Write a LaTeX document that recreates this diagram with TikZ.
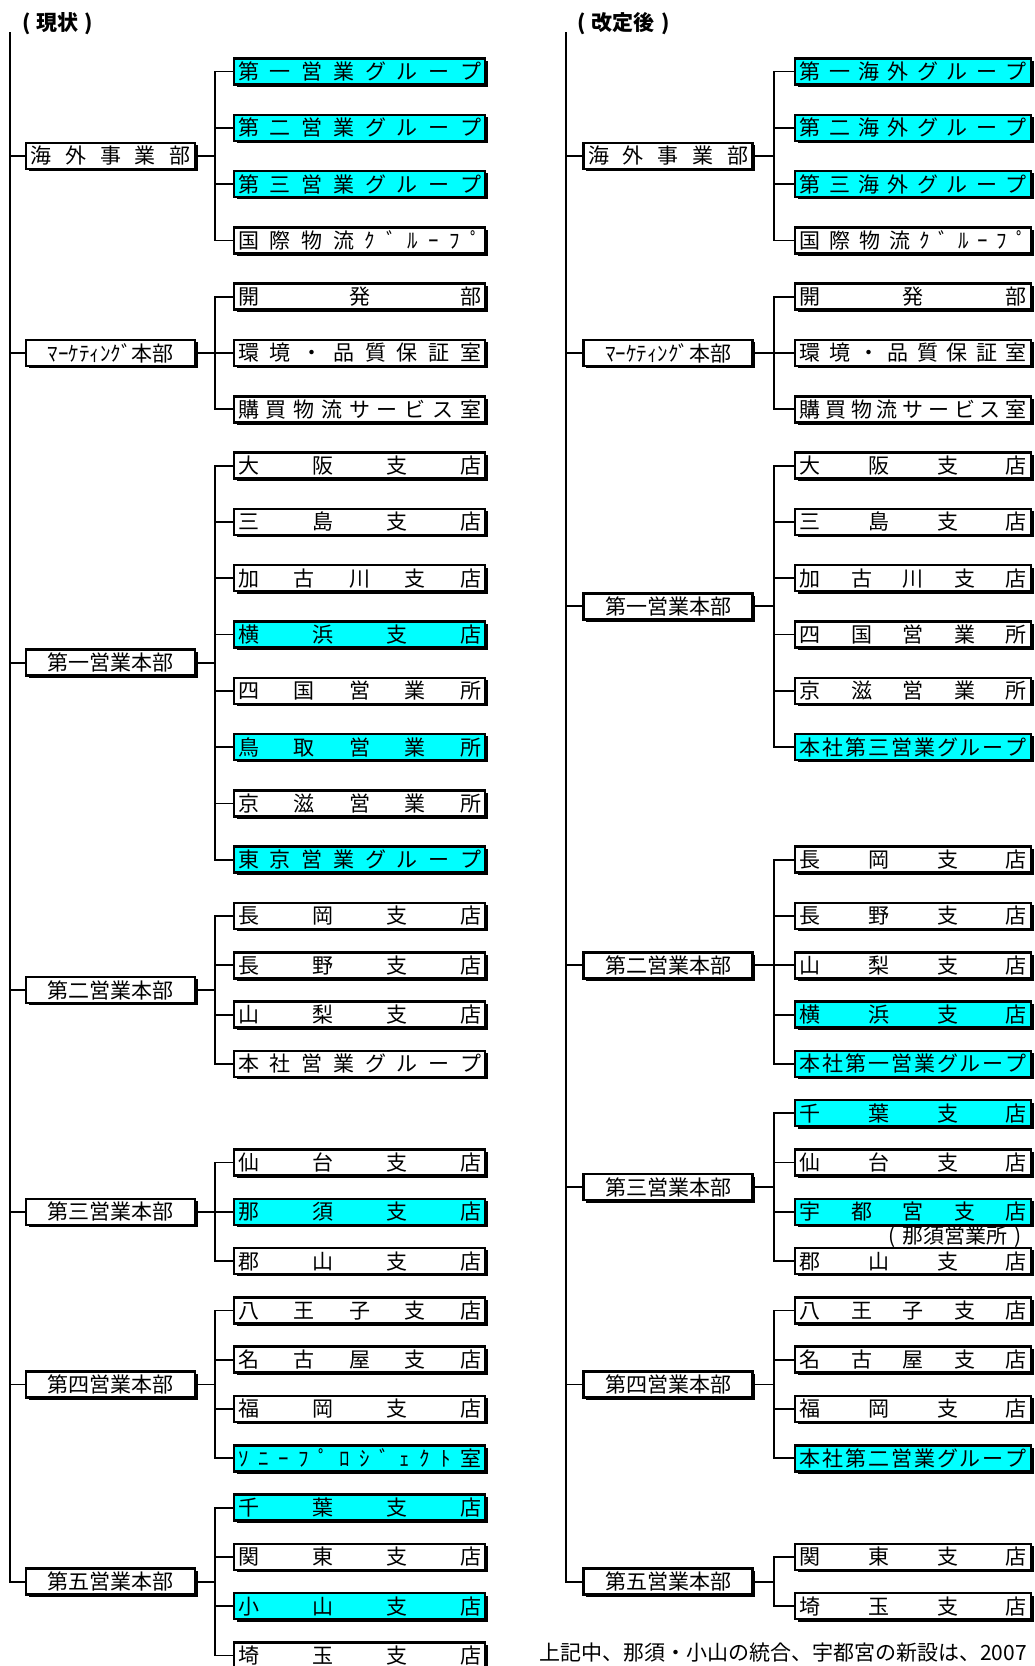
\documentclass[tikz,border=0pt]{standalone}
\usepackage{fontspec}
\setmainfont{Noto Sans CJK JP}
\usepackage{tikz}
\usetikzlibrary{
	positioning,
	shadows
}

\definecolor{hilite}{HTML}{00FFFF}
\newcommand{\boxfont}{\fontsize{21pt}{21pt}\selectfont}
% 均等割付
\newcommand{\kinto}[2]{\makebox[#1][s]{\kintostep#2\relax}}
\def\kintostep#1#2{#1\ifx\relax#2\else\hfill\expandafter\kintostep\fi#2}
\newcommand{\lk}[1]{\kinto{243pt}{#1}}
\newcommand{\rk}[1]{\kinto{227pt}{#1}}
\newcommand{\kakko}[1]{\makebox[1em]{(}#1\makebox[1em]{)}}

\begin{document}
\begin{tikzpicture}[
				x=1pt, y=-1pt,
				link/.style={line width=1.8pt},
				unit/.style={draw, line width=2.5pt, fill=white, inner sep=0pt, minimum height=26pt, font=\boxfont,
					drop shadow={shadow xshift=2.3pt, shadow yshift=-2.3pt, fill=black, opacity=1}},
				dept/.style={unit, minimum width=169pt},
				lsec/.style={unit, minimum width=251pt},
				rsec/.style={unit, minimum width=236pt},
				new/.style={fill=hilite},
				title/.style={font=\fontsize{21pt}{21pt}\selectfont\bfseries, inner sep=0pt, anchor=west},
				memo/.style={font=\fontsize{21pt}{21pt}\selectfont, inner sep=0pt}
			]
				\useasboundingbox (0,0) rectangle (1035,1666);

				% 見出し
				\node[title] (now)   at (15.5, 23.5) {\kakko{現状}};
				\node[title] (after) at (570.5, 23.5) {\kakko{改定後}};

				% 幹線
				\coordinate (ltop) at (10, 32);
				\coordinate (rtop) at (566, 32);
				\coordinate (lbus) at (215, 0);
				\coordinate (rbus) at (774, 0);

				% 現状：部門
				\node[dept] (lp1) at (110.7, 156)    {\kinto{160pt}{海外事業部}};
				\node[dept] (lp2) at (110.7, 353)    {ﾏｰｹﾃｨﾝｸﾞ本部};
				\node[dept] (lp3) at (110.7, 662.6)  {第一営業本部};
				\node[dept] (lp4) at (110.7, 990)    {第二営業本部};
				\node[dept] (lp5) at (110.7, 1211.8) {第三営業本部};
				\node[dept] (lp6) at (110.7, 1384.4) {第四営業本部};
				\node[dept] (lp7) at (110.7, 1581.6) {第五営業本部};

				% 現状：課
				\node[lsec,new] (l0)  at (359.7, 71.5)   {\lk{第一営業グループ}};
				\node[lsec,new] (l1)  at (359.7, 127.8)  {\lk{第二営業グループ}};
				\node[lsec,new] (l2)  at (359.7, 184.1)  {\lk{第三営業グループ}};
				\node[lsec]     (l3)  at (359.7, 240.4)  {\lk{国際物流ｸﾞﾙｰﾌﾟ}};
				\node[lsec]     (l4)  at (359.7, 296.7)  {\lk{開発部}};
				\node[lsec]     (l5)  at (359.7, 353.0)  {\lk{環境・品質保証室}};
				\node[lsec]     (l6)  at (359.7, 409.3)  {\lk{購買物流サービス室}};
				\node[lsec]     (l7)  at (359.7, 465.6)  {\lk{大阪支店}};
				\node[lsec]     (l8)  at (359.7, 521.9)  {\lk{三島支店}};
				\node[lsec]     (l9)  at (359.7, 578.2)  {\lk{加古川支店}};
				\node[lsec,new] (l10) at (359.7, 634.5)  {\lk{横浜支店}};
				\node[lsec]     (l11) at (359.7, 690.8)  {\lk{四国営業所}};
				\node[lsec,new] (l12) at (359.7, 747.1)  {\lk{鳥取営業所}};
				\node[lsec]     (l13) at (359.7, 803.4)  {\lk{京滋営業所}};
				\node[lsec,new] (l14) at (359.7, 859.7)  {\lk{東京営業グループ}};
				\node[lsec]     (l15) at (359.7, 916.0)  {\lk{長岡支店}};
				\node[lsec]     (l16) at (359.7, 965.3)  {\lk{長野支店}};
				\node[lsec]     (l17) at (359.7, 1014.6) {\lk{山梨支店}};
				\node[lsec]     (l18) at (359.7, 1063.9) {\lk{本社営業グループ}};
				\node[lsec]     (l20) at (359.7, 1162.5) {\lk{仙台支店}};
				\node[lsec,new] (l21) at (359.7, 1211.8) {\lk{那須支店}};
				\node[lsec]     (l22) at (359.7, 1261.1) {\lk{郡山支店}};
				\node[lsec]     (l23) at (359.7, 1310.4) {\lk{八王子支店}};
				\node[lsec]     (l24) at (359.7, 1359.7) {\lk{名古屋支店}};
				\node[lsec]     (l25) at (359.7, 1409.0) {\lk{福岡支店}};
				\node[lsec,new] (l26) at (359.7, 1458.3) {\lk{ｿﾆｰﾌﾟﾛｼﾞｪｸﾄ室}};
				\node[lsec,new] (l27) at (359.7, 1507.6) {\lk{千葉支店}};
				\node[lsec]     (l28) at (359.7, 1556.9) {\lk{関東支店}};
				\node[lsec,new] (l29) at (359.7, 1606.2) {\lk{小山支店}};
				\node[lsec]     (l30) at (359.7, 1655.5) {\lk{埼玉支店}};

				% 改定後：部門
				\node[dept] (rp1) at (668, 156)    {\kinto{160pt}{海外事業部}};
				\node[dept] (rp2) at (668, 353)    {ﾏｰｹﾃｨﾝｸﾞ本部};
				\node[dept] (rp3) at (668, 606.3)  {第一営業本部};
				\node[dept] (rp4) at (668, 965.3)  {第二営業本部};
				\node[dept] (rp5) at (668, 1187.2) {第三営業本部};
				\node[dept] (rp6) at (668, 1384.4) {第四営業本部};
				\node[dept] (rp7) at (668, 1581.6) {第五営業本部};

				% 改定後：課
				\node[rsec,new] (r0)  at (913.2, 71.5)   {\rk{第一海外グループ}};
				\node[rsec,new] (r1)  at (913.2, 127.8)  {\rk{第二海外グループ}};
				\node[rsec,new] (r2)  at (913.2, 184.1)  {\rk{第三海外グループ}};
				\node[rsec]     (r3)  at (913.2, 240.4)  {\rk{国際物流ｸﾞﾙｰﾌﾟ}};
				\node[rsec]     (r4)  at (913.2, 296.7)  {\rk{開発部}};
				\node[rsec]     (r5)  at (913.2, 353.0)  {\rk{環境・品質保証室}};
				\node[rsec]     (r6)  at (913.2, 409.3)  {\rk{購買物流サービス室}};
				\node[rsec]     (r7)  at (913.2, 465.6)  {\rk{大阪支店}};
				\node[rsec]     (r8)  at (913.2, 521.9)  {\rk{三島支店}};
				\node[rsec]     (r9)  at (913.2, 578.2)  {\rk{加古川支店}};
				\node[rsec]     (r10) at (913.2, 634.5)  {\rk{四国営業所}};
				\node[rsec]     (r11) at (913.2, 690.8)  {\rk{京滋営業所}};
				\node[rsec,new] (r12) at (913.2, 747.1)  {\rk{本社第三営業グループ}};
				\node[rsec]     (r14) at (913.2, 859.7)  {\rk{長岡支店}};
				\node[rsec]     (r15) at (913.2, 916.0)  {\rk{長野支店}};
				\node[rsec]     (r16) at (913.2, 965.3)  {\rk{山梨支店}};
				\node[rsec,new] (r17) at (913.2, 1014.6) {\rk{横浜支店}};
				\node[rsec,new] (r18) at (913.2, 1063.9) {\rk{本社第一営業グループ}};
				\node[rsec,new] (r19) at (913.2, 1113.2) {\rk{千葉支店}};
				\node[rsec]     (r20) at (913.2, 1162.5) {\rk{仙台支店}};
				\node[rsec,new] (r21) at (913.2, 1211.8) {\rk{宇都宮支店}};
				\node[rsec]     (r22) at (913.2, 1261.1) {\rk{郡山支店}};
				\node[rsec]     (r23) at (913.2, 1310.4) {\rk{八王子支店}};
				\node[rsec]     (r24) at (913.2, 1359.7) {\rk{名古屋支店}};
				\node[rsec]     (r25) at (913.2, 1409.0) {\rk{福岡支店}};
				\node[rsec,new] (r26) at (913.2, 1458.3) {\rk{本社第二営業グループ}};
				\node[rsec]     (r28) at (913.2, 1556.9) {\rk{関東支店}};
				\node[rsec]     (r29) at (913.2, 1606.2) {\rk{埼玉支店}};

				% 注記
				\node[memo] (nasu) at (955, 1237) {\kakko{那須営業所}};
				\node[font=\fontsize{21pt}{21pt}\selectfont, inner sep=0pt, anchor=west]
					(note) at (539, 1653) {上記中、那須・小山の統合、宇都宮の新設は、2007};

				% 幹線
				\draw[link] (ltop) |- (lp7.west);
				\draw[link] (rtop) |- (rp7.west);
				\foreach \p in {lp1,lp2,lp3,lp4,lp5,lp6}
					\draw[link] (ltop |- \p.west) -- (\p.west);
				\foreach \p in {rp1,rp2,rp3,rp4,rp5,rp6}
					\draw[link] (rtop |- \p.west) -- (\p.west);
				\foreach \p in {lp1,lp2,lp3,lp4,lp5,lp6,lp7}
					\draw[link] (\p.east) -- (\p.east -| lbus);
				\foreach \p in {rp1,rp2,rp3,rp4,rp5,rp6,rp7}
					\draw[link] (\p.east) -- (\p.east -| rbus);

				% 枝線
				\foreach \c in {l0,l1,l2,l3}               \draw[link] (lp1.east -| lbus) |- (\c.west);
				\foreach \c in {l4,l5,l6}                  \draw[link] (lp2.east -| lbus) |- (\c.west);
				\foreach \c in {l7,l8,l9,l10,l11,l12,l13,l14} \draw[link] (lp3.east -| lbus) |- (\c.west);
				\foreach \c in {l15,l16,l17,l18}           \draw[link] (lp4.east -| lbus) |- (\c.west);
				\foreach \c in {l20,l21,l22}               \draw[link] (lp5.east -| lbus) |- (\c.west);
				\foreach \c in {l23,l24,l25,l26}           \draw[link] (lp6.east -| lbus) |- (\c.west);
				\foreach \c in {l27,l28,l29,l30}           \draw[link] (lp7.east -| lbus) |- (\c.west);

				\foreach \c in {r0,r1,r2,r3}               \draw[link] (rp1.east -| rbus) |- (\c.west);
				\foreach \c in {r4,r5,r6}                  \draw[link] (rp2.east -| rbus) |- (\c.west);
				\foreach \c in {r7,r8,r9,r10,r11,r12}      \draw[link] (rp3.east -| rbus) |- (\c.west);
				\foreach \c in {r14,r15,r16,r17,r18}       \draw[link] (rp4.east -| rbus) |- (\c.west);
				\foreach \c in {r19,r20,r21,r22}           \draw[link] (rp5.east -| rbus) |- (\c.west);
				\foreach \c in {r23,r24,r25,r26}           \draw[link] (rp6.east -| rbus) |- (\c.west);
				\foreach \c in {r28,r29}                   \draw[link] (rp7.east -| rbus) |- (\c.west);
			\end{tikzpicture}
\end{document}
